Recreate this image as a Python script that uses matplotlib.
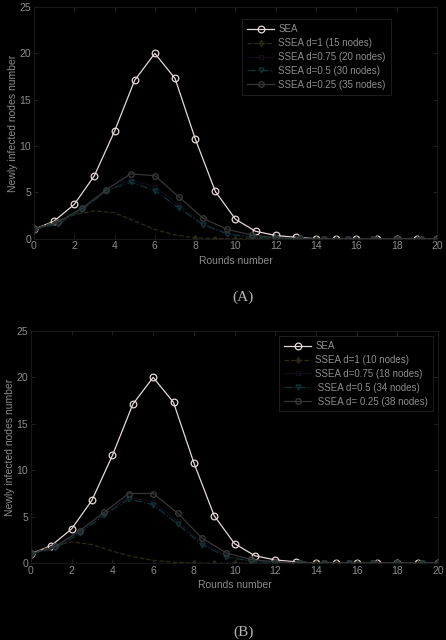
import numpy as np
import matplotlib
matplotlib.use('Agg')
import matplotlib.pyplot as plt

plt.rcParams['font.family'] = ['Liberation Sans', 'DejaVu Sans']

#DATA
rounds = list(range(0, 21))
rounds_s = [0, 1.2, 2.4, 3.6, 4.8, 6.0, 7.2, 8.4, 9.6, 10.8, 12.0, 13.2, 14.4, 15.6, 16.8, 18.0, 19.2, 20.0]

sea = [1.0, 1.9, 3.7, 6.8, 11.6, 17.1, 20.0, 17.3, 10.8, 5.1, 2.1, 0.8, 0.35, 0.15, 0, 0, 0, 0, 0, 0, 0]

# panel A
a_d1 = [1.0, 1.8, 2.6, 3.0, 2.8, 1.9, 1.0, 0.4, 0.1, 0.02, 0, 0, 0, 0, 0, 0, 0, 0, 0, 0, 0]
a_d075 = [1.0, 1.7, 3.2, 5.1, 6.4, 5.6, 3.6, 1.6, 0.6, 0.2, 0.05, 0, 0, 0, 0, 0, 0, 0]
a_d05 = [1.0, 1.6, 3.1, 5.2, 6.1, 5.2, 3.3, 1.5, 0.5, 0.15, 0.05, 0, 0, 0, 0, 0, 0, 0]
a_d025 = [1.0, 1.8, 3.3, 5.3, 7.0, 6.8, 4.5, 2.2, 1.0, 0.4, 0.1, 0.03, 0, 0, 0, 0, 0, 0]

# panel B
b_d1 = [1.0, 1.8, 2.3, 2.0, 1.3, 0.7, 0.3, 0.1, 0.02, 0, 0, 0, 0, 0, 0, 0, 0, 0, 0, 0, 0]
b_d075 = [1.0, 1.7, 3.3, 5.3, 7.1, 6.6, 4.5, 2.2, 0.8, 0.25, 0.05, 0, 0, 0, 0, 0, 0, 0]
b_d05 = [1.0, 1.6, 3.2, 5.2, 6.9, 6.3, 4.2, 2.0, 0.7, 0.2, 0.05, 0, 0, 0, 0, 0, 0, 0]
b_d025 = [1.0, 1.8, 3.5, 5.5, 7.5, 7.5, 5.4, 2.7, 1.1, 0.4, 0.15, 0.05, 0, 0, 0, 0, 0, 0]

labels_a = ['SEA', 'SSEA d=1 (15 nodes)', 'SSEA d=0.75 (20 nodes)',
            'SSEA d=0.5 (30 nodes)', 'SSEA d=0.25 (35 nodes)']
labels_b = ['SEA', 'SSEA d=1 (10 nodes)', 'SSEA d=0.75 (18 nodes)',
            ' SSEA d=0.5 (34 nodes)', ' SSEA d= 0.25 (38 nodes)']

#COLORS
txt = '#8c8c8c'
c_sea = '#e6d8d8'
c_d1 = '#2e2c12'
c_d075 = '#140a1a'
c_d05 = '#0c3434'
c_d025 = '#363636'

fig = plt.figure(figsize=(4.46, 6.4), dpi=100, facecolor='black')


def panel(ax, d1, d075, d05, d025, labels, leg_anchor):
    ax.set_facecolor('black')
    ax.plot(rounds, sea, '-o', color=c_sea, lw=0.9, ms=4.8, mfc='none', mew=0.9, label=labels[0])
    ax.plot(rounds, d1, '--', color=c_d1, lw=0.9, marker='d', ms=3, mfc='none',
            markevery=list(range(8, 21)), label=labels[1])
    ax.plot(rounds_s, d075, '-', color=c_d075, lw=0.9, marker='s', ms=3, mfc='none', label=labels[2])
    ax.plot(rounds_s, d05, '-.', color=c_d05, lw=0.9, marker='v', ms=3.5, mfc='none', label=labels[3])
    ax.plot(rounds_s, d025, '-', color=c_d025, lw=0.9, marker='o', ms=4, mfc='none', label=labels[4])

    ax.set_xlim(0, 20)
    ax.set_ylim(0, 25)
    ax.set_xticks(range(0, 21, 2))
    ax.set_yticks(range(0, 26, 5))
    ax.tick_params(direction='in', length=3, width=0.6, color='#262626',
                   labelcolor=txt, labelsize=7.5, top=True, right=True, pad=2)
    for s in ax.spines.values():
        s.set_color('#1c1c1c')
        s.set_linewidth(0.6)
    ax.set_xlabel('Rounds number', color=txt, fontsize=7.5, labelpad=3)
    ax.set_ylabel('Newly infected nodes number', color=txt, fontsize=7.5, labelpad=1)

    leg = ax.legend(loc='upper left', bbox_to_anchor=leg_anchor, fontsize=7,
                    frameon=True, fancybox=False, handlelength=2.8,
                    labelspacing=0.4, borderpad=0.5, handletextpad=0.4)
    leg.get_frame().set_facecolor('black')
    leg.get_frame().set_edgecolor('#2a2a2a')
    leg.get_frame().set_linewidth(0.6)
    for t in leg.get_texts():
        t.set_color(txt)


ax1 = fig.add_axes([0.076, 0.627, 0.904, 0.362])
panel(ax1, a_d1, a_d075, a_d05, a_d025, labels_a, (0.505, 0.968))

ax2 = fig.add_axes([0.0695, 0.120, 0.913, 0.363])
panel(ax2, b_d1, b_d075, b_d05, b_d025, labels_b, (0.598, 0.998))

fig.text(0.545, 1 - 297 / 640, '(A)', ha='center', va='center', color='#b4b4b4',
         fontsize=11, family='Liberation Serif')
fig.text(0.545, 1 - 632 / 640, '(B)', ha='center', va='center', color='#b4b4b4',
         fontsize=11, family='Liberation Serif')

plt.savefig('out.png', dpi=100, facecolor='black')
